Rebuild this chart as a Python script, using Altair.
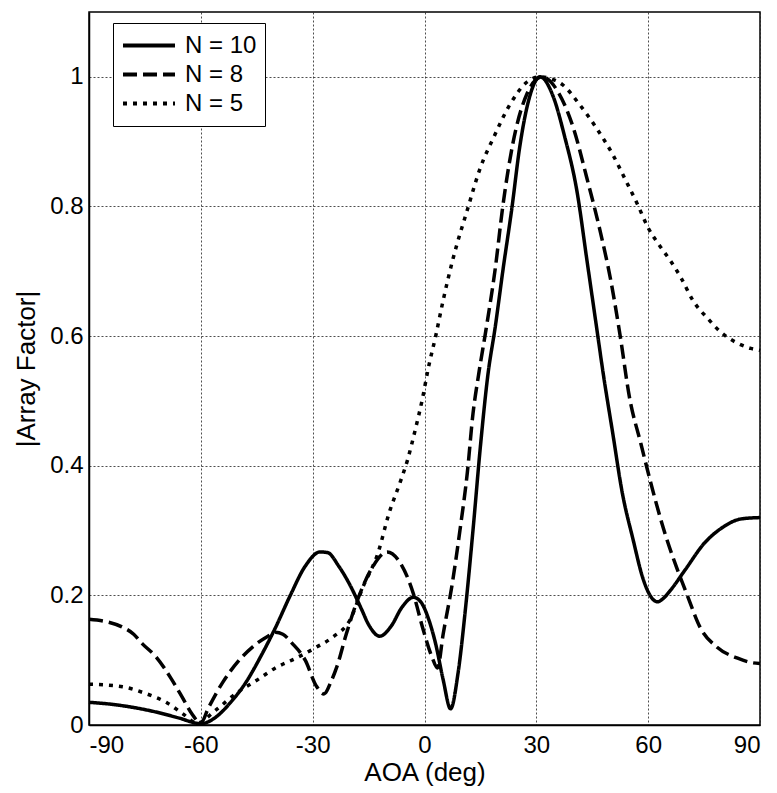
import altair as alt
import pandas as pd

series_names = ["N = 10", "N = 8", "N = 5"]

n10_x = [-90, -84, -78, -72, -66, -60, -56, -52, -48, -44, -40, -36, -32, -28, -26, -23, -20, -17, -15, -12,
         -9, -6, -3, -1, 1, 3, 5, 7, 9, 11, 13, 15, 17, 19, 21, 23.5, 25.5, 28, 31, 34.5, 37.5, 41, 43.5,
         46, 48, 50.5, 53, 56, 58.5, 60.5, 62.5, 64, 66, 70, 75, 80, 85, 90]
n10_y = [0.035, 0.032, 0.027, 0.02, 0.011, 0.002, 0.012, 0.035, 0.065, 0.105, 0.15, 0.2, 0.245, 0.267,
         0.266, 0.245, 0.216, 0.18, 0.155, 0.137, 0.152, 0.182, 0.197, 0.19, 0.165, 0.125, 0.07, 0.025,
         0.08, 0.18, 0.3, 0.43, 0.54, 0.615, 0.70, 0.8, 0.89, 0.965, 1.0, 0.97, 0.91, 0.82, 0.72, 0.62,
         0.54, 0.45, 0.36, 0.285, 0.228, 0.2, 0.19, 0.195, 0.208, 0.24, 0.28, 0.305, 0.318, 0.32]

n8_x = [-90, -85, -81, -78, -75.8, -72, -68, -65, -62.5, -60, -58, -54, -50, -46, -42, -40, -38, -35.5, -32,
        -29, -27, -25, -23.5, -21, -17.5, -14, -10, -6.5, -3, -0.5, 2, 3.5, 5, 7.5, 9.5, 11.5, 13, 14.5,
        16.5, 19, 21, 23.7, 27.5, 31.5, 36, 40, 43.5, 47, 50, 52.5, 55, 58, 60.5, 64, 67.5, 70.5, 74,
        78.5, 84, 88, 90]
n8_y = [0.163, 0.159, 0.151, 0.14, 0.126, 0.105, 0.072, 0.043, 0.018, 0.003, 0.026, 0.067, 0.098, 0.121,
        0.137, 0.143, 0.14, 0.126, 0.1, 0.06, 0.048, 0.068, 0.09, 0.14, 0.2, 0.243, 0.267, 0.25, 0.203,
        0.15, 0.105, 0.088, 0.14, 0.22, 0.3, 0.39, 0.48, 0.54, 0.61, 0.705, 0.8, 0.897, 0.974, 1.0, 0.975,
        0.92, 0.845, 0.765, 0.685, 0.6, 0.505, 0.435, 0.378, 0.305, 0.245, 0.2, 0.15, 0.12, 0.103, 0.096,
        0.095]

n5_x = [-90, -81, -75, -69, -65, -61, -56, -50.5, -45, -40, -34.5, -29, -24.5, -20, -16.5, -12.5, -9.5,
        -6.5, -4.5, -2.5, -0.5, 1, 3, 5, 7.5, 11.5, 15, 18.5, 23, 27.5, 31, 34, 37, 41.5, 46, 50.5, 54,
        57, 60, 63, 66, 69, 72, 76, 79.5, 84, 87.5, 90]
n5_y = [0.063, 0.059, 0.049, 0.034, 0.018, 0.003, 0.023, 0.049, 0.069, 0.088, 0.103, 0.12, 0.136, 0.162,
        0.213, 0.265, 0.327, 0.375, 0.41, 0.455, 0.505, 0.55, 0.6, 0.655, 0.716, 0.795, 0.86, 0.906,
        0.958, 0.992, 1.0, 0.997, 0.988, 0.958, 0.922, 0.88, 0.84, 0.805, 0.767, 0.74, 0.716, 0.688,
        0.655, 0.627, 0.606, 0.589, 0.581, 0.578]

x_ticks = [-90, -60, -30, 0, 30, 60, 90]
y_ticks = [0, 0.2, 0.4, 0.6, 0.8, 1]

frames = []
for name, xs, ys in [(series_names[0], n10_x, n10_y), (series_names[1], n8_x, n8_y),
                     (series_names[2], n5_x, n5_y)]:
    frames.append(pd.DataFrame({"aoa": xs, "af": ys, "series": name}))
df = pd.concat(frames, ignore_index=True)

FONT = "Liberation Sans"

chart = alt.Chart(df).mark_line(color="black", strokeWidth=3.5, interpolate="monotone").encode(
    x=alt.X("aoa:Q", title="AOA (deg)",
            scale=alt.Scale(domain=[-90, 90], nice=False, zero=False),
            axis=alt.Axis(values=x_ticks, labelExpr="'' + datum.value")),
    y=alt.Y("af:Q", title="|Array Factor|",
            scale=alt.Scale(domain=[0, 1.1], nice=False),
            axis=alt.Axis(values=y_ticks, labelExpr="'' + datum.value")),
    strokeDash=alt.StrokeDash("series:N",
                              scale=alt.Scale(domain=series_names, range=[[1, 0], [14, 6], [4, 6]]),
                              legend=alt.Legend(title=None, orient="none", legendX=24, legendY=11,
                                                symbolType="stroke", symbolSize=2700,
                                                symbolStrokeWidth=4, symbolStrokeColor="black",
                                                clipHeight=29, rowPadding=0, padding=8,
                                                labelOffset=8, labelFontSize=24, labelFont=FONT,
                                                labelColor="black",
                                                strokeColor="black", fillColor="white")),
    order=alt.Order("aoa:Q"),
).properties(
    width=671, height=713,
    autosize=alt.AutoSizeParams(type="none"),
    padding={"left": 81, "top": 4, "right": 9, "bottom": 66},
).configure_view(
    stroke="black", strokeWidth=1.5
).configure_axis(
    grid=True, gridColor="#222", gridDash=[2, 2], gridWidth=1, gridOpacity=0.8,
    domain=True, domainColor="black", domainWidth=1.5,
    ticks=False, labelPadding=8,
    labelFont=FONT, labelFontSize=24, labelColor="black",
    titleFont=FONT, titleFontSize=26, titleFontWeight="normal", titleColor="black",
).configure_axisY(
    labelPadding=6, titlePadding=10
).configure_axisX(
    titlePadding=2
)

chart.save("out.html", embed_options={"renderer": "svg", "actions": False})
